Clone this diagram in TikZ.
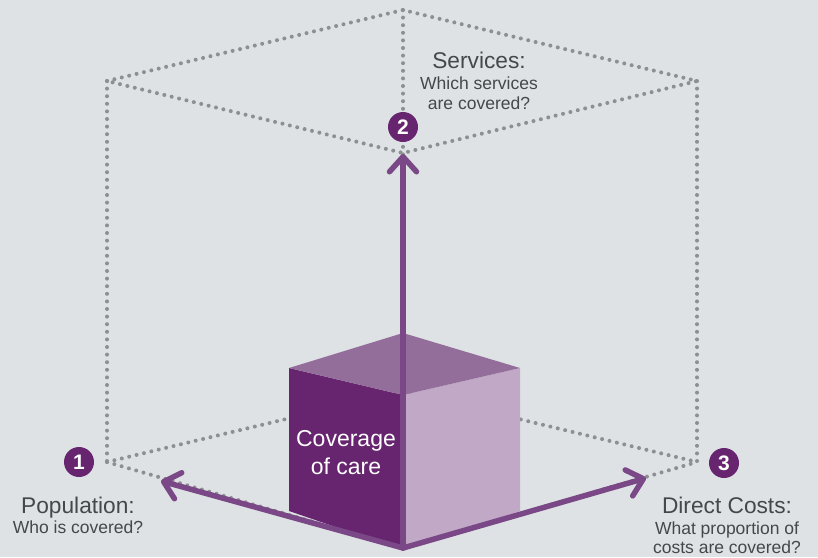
\documentclass[tikz,border=0pt]{standalone}
\usepackage{fontspec}
\setmainfont{Liberation Sans}
\usetikzlibrary{arrows.meta}
\definecolor{bg}{HTML}{DEE2E5}
\definecolor{dotgray}{HTML}{8E8F91}
\definecolor{darkpurple}{HTML}{67246F}
\definecolor{toppurple}{HTML}{936E9B}
\definecolor{lightpurple}{HTML}{C0A8C6}
\definecolor{arrowpurple}{HTML}{7A4886}
\definecolor{textgray}{HTML}{45484A}
\tikzset{
  dotline/.style={draw=dotgray, line width=4pt, line cap=round, dash pattern=on 0pt off 7.6pt},
  axis/.style={draw=arrowpurple, line width=5.5pt, line cap=round,
    -{Straight Barb[length=15pt,width=27pt,line width=5.5pt,round]}},
  numcirc/.style={circle, fill=darkpurple, text=white, minimum size=30pt, inner sep=0pt,
    font=\fontsize{21}{21}\selectfont\bfseries},
  title/.style={text=textgray, font=\fontsize{22.7}{26}\selectfont, inner sep=0pt, anchor=base},
  sub/.style={text=textgray, font=\fontsize{17.5}{20}\selectfont, inner sep=0pt, anchor=base},
  inner/.style={text=white, font=\fontsize{23}{26}\selectfont, inner sep=0pt, anchor=base}
}
\begin{document}
\begin{tikzpicture}[x=1pt,y=-1pt]
\fill[bg] (0,0) rectangle (818,557);
\useasboundingbox (0,0) rectangle (818,557);
% big cube vertices
\coordinate (TB) at (403,10);
\coordinate (TL) at (107,81);
\coordinate (TR) at (697,81);
\coordinate (TF) at (403,153);
\coordinate (BB) at (403,391);
\coordinate (BL) at (107,462);
\coordinate (BR) at (697,462);
\coordinate (BF) at (403,548);
% dotted wireframe
\draw[dotline] (TL) -- (TB) -- (TR) -- (TF) -- cycle;
\draw[dotline] (TL) -- (BL);
\draw[dotline] (TR) -- (BR);
\draw[dotline] (TB) -- (BB);
\draw[dotline] (BL) -- (BB) -- (BR);
\draw[dotline] (BL) -- (BF) -- (BR);
% small cube
\coordinate (sBF) at (403,550);
\coordinate (sBL) at (289,511);
\coordinate (sBR) at (520,511);
\coordinate (sTF) at (403,395);
\coordinate (sTL) at (289,368);
\coordinate (sTR) at (520,368);
\coordinate (sTB) at (403,333);
\fill[darkpurple] (sBL) -- (sBF) -- (sTF) -- (sTL) -- cycle;
\fill[lightpurple] (sBF) -- (sBR) -- (sTR) -- (sTF) -- cycle;
\fill[toppurple] (sTL) -- (sTF) -- (sTR) -- (sTB) -- cycle;
\node[inner] (cov1) at (346,446) {Coverage};
\node[inner] (cov2) at (346,474) {of care};
% axes
\coordinate (O) at (403,548);
\coordinate (tipUp) at (403,154);
\coordinate (tipL) at (161,481);
\coordinate (tipR) at (646,478);
\draw[axis] (O) -- (tipUp);
\draw[axis] (O) -- (tipL);
\draw[axis] (O) -- (tipR);
% number circles
\node[numcirc] (n1) at (79,462) {1};
\node[numcirc] (n2) at (403,127) {2};
\node[numcirc] (n3) at (724,463) {3};
% labels
\node[title] (s1) at (479,68) {Services:};
\node[sub] (s2) at (479,89) {Which services};
\node[sub] (s3) at (479,109) {are covered?};
\node[title] (p1) at (78,513) {Population:};
\node[sub] (p2) at (78,533) {Who is covered?};
\node[title] (d1) at (727,513) {Direct Costs:};
\node[sub] (d2) at (727,534) {What proportion of};
\node[sub] (d3) at (727,553) {costs are covered?};
\end{tikzpicture}
\end{document}
